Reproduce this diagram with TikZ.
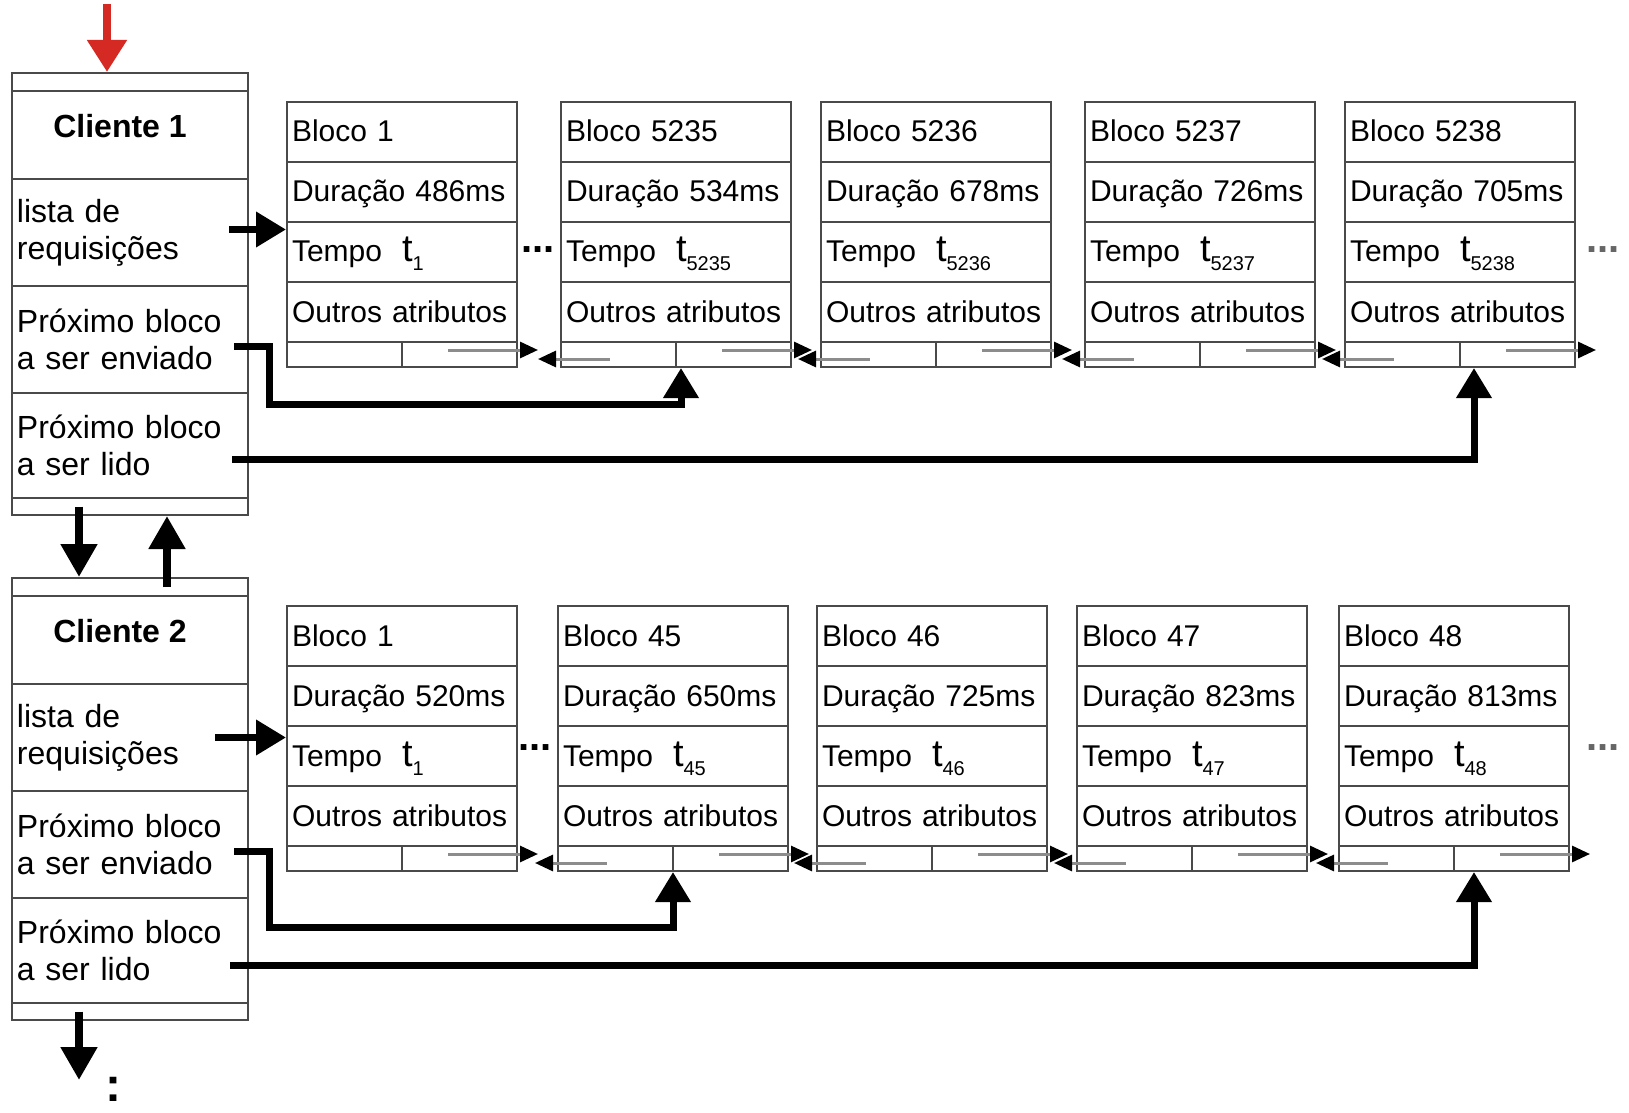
\documentclass[tikz,border=0pt]{standalone}
\usepackage{fontspec}
\setmainfont{Liberation Sans}
\usetikzlibrary{arrows.meta,positioning}
\definecolor{seta}{HTML}{D42A23}
\definecolor{linha}{HTML}{4A4A4A}
\definecolor{ponteiro}{HTML}{8C8C8C}
\newcommand{\tempot}[1]{\smash{{\fontsize{19}{19}\selectfont t}\raisebox{-4.5pt}{\fontsize{10}{10}\selectfont #1}}}

\begin{document}
\begin{tikzpicture}[x=0.5pt,y=-0.5pt,
  cell/.style={draw=linha,line width=1pt,anchor=north west,minimum width=115pt,minimum height=30pt,
    text width=110pt,inner xsep=2.5pt,inner ysep=0pt,align=left,text height=12pt,text depth=2pt,
    font=\fontsize{15}{15}\selectfont},
  ptrcell/.style={draw=linha,line width=1pt,anchor=north west,minimum width=115pt,minimum height=12.5pt,inner sep=0pt},
  crow/.style={draw=linha,line width=1pt,anchor=north west,minimum width=118pt,text width=113pt,
    inner xsep=2.5pt,inner ysep=0pt,align=left,font=\fontsize{16}{18.5}\selectfont},
  cname/.style={font=\fontsize{16}{16}\selectfont\bfseries},
  thickarrow/.style={line width=4pt,-{Triangle[length=16.5pt,width=17.5pt]}},
  ptrarrow/.style={line width=3.5pt,-{Triangle[length=15pt,width=17pt]}},
  listptr/.style={ponteiro,line width=1.5pt,-{Triangle[length=9pt,width=8pt,color=black]}},
  dots/.style={font=\fontsize{20}{20}\selectfont\bfseries}]
  \useasboundingbox (0,0) rectangle (1629,1113);

  % Cliente 1
  \node[crow,minimum height=9pt] (C1head) at (11,72) {};
  \node[crow,minimum height=44pt] (C1title) at (11,90) {};
  \node[cname] (C1name) at (120,126) {Cliente 1};
  \node[crow,minimum height=53.5pt] (C1lista) at (11,178) {lista de\\requisições};
  \node[crow,minimum height=53.5pt] (C1env) at (11,285) {Próximo bloco\\a ser enviado};
  \node[crow,minimum height=52.5pt] (C1lido) at (11,392) {Próximo bloco\\a ser lido};
  \node[crow,minimum height=8.5pt] (C1foot) at (11,497) {};

  % Cliente 2
  \node[crow,minimum height=9pt] (C2head) at (11,577) {};
  \node[crow,minimum height=44pt] (C2title) at (11,595) {};
  \node[cname] (C2name) at (120,631) {Cliente 2};
  \node[crow,minimum height=53.5pt] (C2lista) at (11,683) {lista de\\requisições};
  \node[crow,minimum height=53.5pt] (C2env) at (11,790) {Próximo bloco\\a ser enviado};
  \node[crow,minimum height=52.5pt] (C2lido) at (11,897) {Próximo bloco\\a ser lido};
  \node[crow,minimum height=8.5pt] (C2foot) at (11,1002) {};

  % Blocos do cliente 1
  \foreach \i/\x/\num/\dur in {1/286/1/486,2/560/5235/534,3/820/5236/678,4/1084/5237/726,5/1344/5238/705}{
    \node[cell] (Abloco\i) at (\x,101) {Bloco \num};
    \node[cell] (Adur\i) at (\x,161) {Duração \dur ms};
    \node[cell] (Atempo\i) at (\x,221) {Tempo\hspace{10pt}\tempot{\num}};
    \node[cell] (Aoutros\i) at (\x,281) {Outros atributos};
    \node[ptrcell] (Aptr\i) at (\x,341) {};
    \draw[linha,line width=1pt] (Aptr\i.north) -- (Aptr\i.south);
    \draw[listptr] ([xshift=-35pt,yshift=-4.5pt]Aptr\i.north east) -- ([xshift=10pt,yshift=-4.5pt]Aptr\i.north east);
  }
  \foreach \i in {2,...,5}
    \draw[listptr] ([xshift=25pt,yshift=4.5pt]Aptr\i.south west) -- ([xshift=-11pt,yshift=4.5pt]Aptr\i.south west);

  % Blocos do cliente 2
  \foreach \i/\x/\num/\dur in {1/286/1/520,2/557/45/650,3/816/46/725,4/1076/47/823,5/1338/48/813}{
    \node[cell] (Bbloco\i) at (\x,605) {Bloco \num};
    \node[cell] (Bdur\i) at (\x,665) {Duração \dur ms};
    \node[cell] (Btempo\i) at (\x,725) {Tempo\hspace{10pt}\tempot{\num}};
    \node[cell] (Boutros\i) at (\x,785) {Outros atributos};
    \node[ptrcell] (Bptr\i) at (\x,845) {};
    \draw[linha,line width=1pt] (Bptr\i.north) -- (Bptr\i.south);
    \draw[listptr] ([xshift=-35pt,yshift=-4.5pt]Bptr\i.north east) -- ([xshift=10pt,yshift=-4.5pt]Bptr\i.north east);
  }
  \foreach \i in {2,...,5}
    \draw[listptr] ([xshift=25pt,yshift=4.5pt]Bptr\i.south west) -- ([xshift=-11pt,yshift=4.5pt]Bptr\i.south west);

  % reticencias
  \node[dots] (Adots1) at (538,250) {...};
  \node[dots,text=black!60] (Adots2) at (1603,250) {...};
  \node[dots] (Bdots1) at (535,748) {...};
  \node[dots,text=black!60] (Bdots2) at (1603,748) {...};

  % ponteiros do cliente 1
  \draw[ptrarrow] ([xshift=-10pt,yshift=1.5pt]C1lista.east) -- ([yshift=1.5pt]C1lista.east -| Atempo1.west);
  \draw[ptrarrow] ([xshift=-7.5pt,yshift=-3.25pt]C1env.east) -- ([xshift=10pt,yshift=-3.25pt]C1env.east)
    |- ([xshift=2.5pt,yshift=-18pt]Aptr2.south) -- ([xshift=2.5pt]Aptr2.south);
  \draw[ptrarrow] ([xshift=-8.5pt,yshift=-6.75pt]C1lido.east) -| ([xshift=7pt]Aptr5.south);

  % ponteiros do cliente 2
  \draw[ptrarrow] ([xshift=-17pt]C2lista.east) -- (C2lista.east -| Btempo1.west);
  \draw[ptrarrow] ([xshift=-7.5pt,yshift=-3.25pt]C2env.east) -- ([xshift=10pt,yshift=-3.25pt]C2env.east)
    |- ([yshift=-27.5pt]Bptr2.south) -- (Bptr2.south);
  \draw[ptrarrow] ([xshift=-9.5pt,yshift=-7.25pt]C2lido.east) -| ([xshift=10pt]Bptr5.south);

  % entre clientes
  \draw[thickarrow,seta,-{Triangle[length=16pt,width=19pt]}] ([xshift=48pt,yshift=34pt]C1head.north west) -- ([xshift=48pt]C1head.north west);
  \draw[thickarrow] ([xshift=34pt]C1foot.west) -- ([xshift=34pt]C2head.north west);
  \draw[thickarrow] ([xshift=78pt]C2head.west) -- ([xshift=78pt]C1foot.south west);
  \draw[thickarrow] ([xshift=34pt]C2foot.west) -- ([xshift=34pt,yshift=-29.5pt]C2foot.south west);
  \node[font=\fontsize{24}{24}\selectfont\bfseries] (mais) at (113,1089) {:};
\end{tikzpicture}
\end{document}
